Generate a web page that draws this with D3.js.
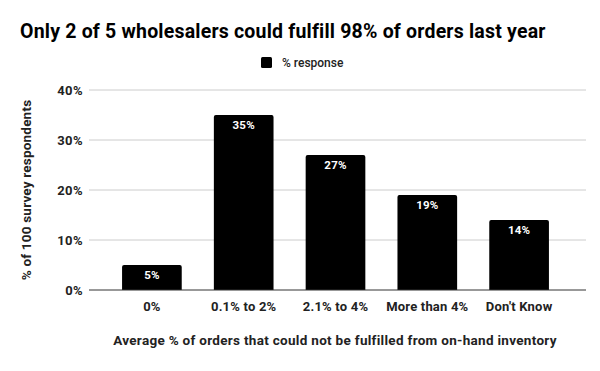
<!DOCTYPE html>
<html>
<head>
<meta charset="utf-8">
<script src="https://cdn.jsdelivr.net/npm/d3@7"></script>
<style>
  html, body { margin: 0; padding: 0; background: #fff; }
  svg { display: block; font-family: Roboto, "Noto Sans", sans-serif; }
</style>
</head>
<body>
<div id="chart"></div>
<script>
// categories and values
var categories = ["0%", "0.1% to 2%", "2.1% to 4%", "More than 4%", "Don't Know"];
var responses = [5, 35, 27, 19, 14];
var yTicks = [0, 10, 20, 30, 40];

var width = 600, height = 371;
var svg = d3.select("#chart").append("svg")
  .attr("width", width)
  .attr("height", height);

// title
svg.append("text")
  .attr("x", 20).attr("y", 38)
  .attr("font-size", 19.5).attr("font-weight", 700).attr("fill", "#000")
  .attr("letter-spacing", 0.2)
  .text("Only 2 of 5 wholesalers could fulfill 98% of orders last year");

// legend
svg.append("rect")
  .attr("x", 261).attr("y", 57).attr("width", 11).attr("height", 11)
  .attr("rx", 1.5).attr("fill", "#000");
svg.append("text")
  .attr("x", 282).attr("y", 66.5)
  .attr("font-size", 12).attr("font-weight", 500).attr("fill", "#222")
  .text("% response");

var x = d3.scaleBand().domain(categories).range([106, 565]).paddingInner(0.35).paddingOuter(0.175);
var y = d3.scaleLinear().domain([0, 40]).range([290, 90]);

// gridlines
svg.append("g").selectAll("line")
  .data(yTicks.filter(function (d) { return d > 0; }))
  .enter().append("line")
  .attr("x1", 89).attr("x2", 586)
  .attr("y1", function (d) { return y(d); })
  .attr("y2", function (d) { return y(d); })
  .attr("stroke", "#ccc").attr("stroke-width", 1);

// y tick labels
svg.append("g").selectAll("text")
  .data(yTicks)
  .enter().append("text")
  .attr("x", 83)
  .attr("y", function (d) { return y(d) + 4.5; })
  .attr("text-anchor", "end")
  .attr("font-size", 13).attr("font-weight", 700).attr("fill", "#222")
  .attr("letter-spacing", 0.4)
  .text(function (d) { return d + "%"; });

// bars with slightly rounded tops
function barPath(d, i) {
  var x0 = x(categories[i]), w = x.bandwidth();
  var top = y(d), bot = y(0), r = 2;
  return "M" + x0 + "," + bot +
    "V" + (top + r) +
    "Q" + x0 + "," + top + " " + (x0 + r) + "," + top +
    "H" + (x0 + w - r) +
    "Q" + (x0 + w) + "," + top + " " + (x0 + w) + "," + (top + r) +
    "V" + bot + "Z";
}
svg.append("g").selectAll("path")
  .data(responses)
  .enter().append("path")
  .attr("d", barPath)
  .attr("fill", "#000");

// value labels inside bars
svg.append("g").selectAll("text")
  .data(responses)
  .enter().append("text")
  .attr("x", function (d, i) { return x(categories[i]) + x.bandwidth() / 2; })
  .attr("y", function (d) { return y(d) + 13.5; })
  .attr("text-anchor", "middle")
  .attr("font-size", 11.5).attr("font-weight", 700).attr("fill", "#fff")
  .attr("letter-spacing", 0.2)
  .text(function (d) { return d + "%"; });

// baseline
svg.append("line")
  .attr("x1", 89).attr("x2", 586)
  .attr("y1", y(0)).attr("y2", y(0))
  .attr("stroke", "#333").attr("stroke-width", 1);

// x tick labels
svg.append("g").selectAll("text")
  .data(categories)
  .enter().append("text")
  .attr("x", function (d) { return x(d) + x.bandwidth() / 2; })
  .attr("y", 310.5)
  .attr("text-anchor", "middle")
  .attr("font-size", 13).attr("font-weight", 700).attr("fill", "#222")
  .attr("letter-spacing", 0.2)
  .text(function (d) { return d; });

// axis titles
svg.append("text")
  .attr("x", 335).attr("y", 345)
  .attr("text-anchor", "middle")
  .attr("font-size", 13.5).attr("font-weight", 700).attr("fill", "#222")
  .attr("letter-spacing", 0.3)
  .text("Average % of orders that could not be fulfilled from on-hand inventory");

svg.append("text")
  .attr("transform", "translate(31,190) rotate(-90)")
  .attr("text-anchor", "middle")
  .attr("font-size", 13.5).attr("font-weight", 700).attr("fill", "#222")
  .attr("letter-spacing", 0.2)
  .text("% of 100 survey respondents");
</script>
</body>
</html>
